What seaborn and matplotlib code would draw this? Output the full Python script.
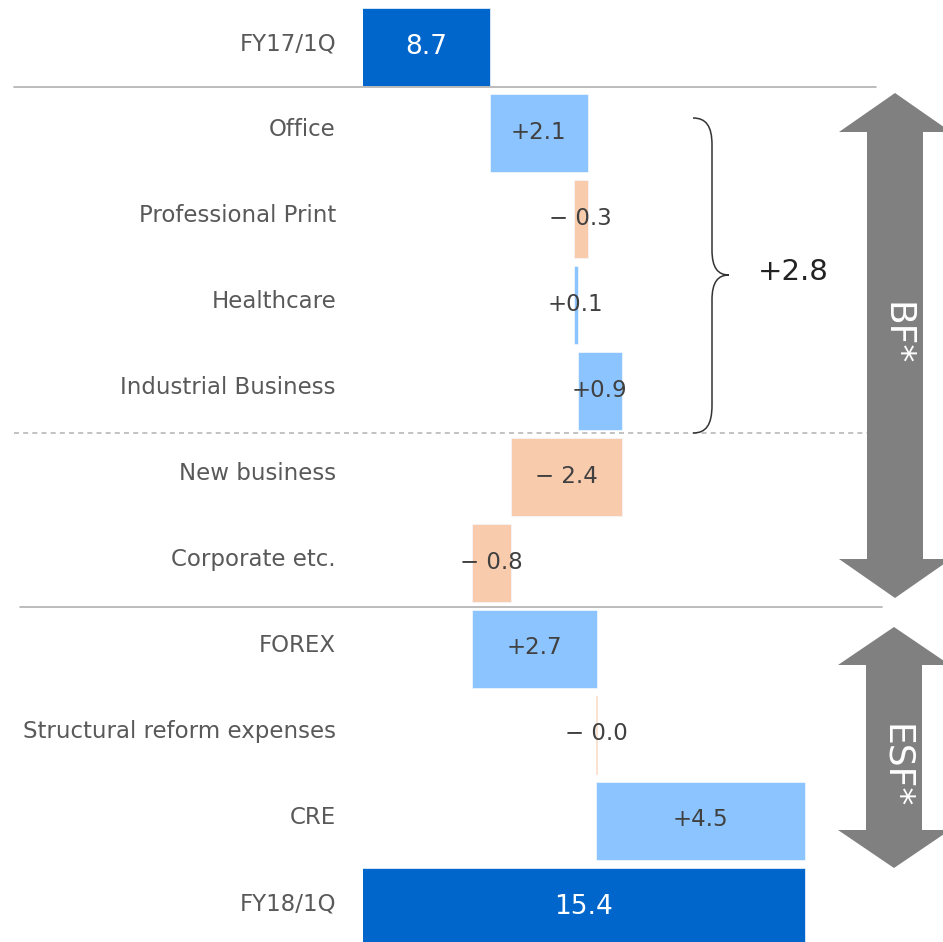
import matplotlib
matplotlib.use("Agg")
import matplotlib.pyplot as plt
import matplotlib.transforms as mtransforms
from matplotlib.patches import Polygon, PathPatch
from matplotlib.path import Path
import pandas as pd
import seaborn as sns

# ---------------- data ----------------
categories = ["FY17/1Q", "Office", "Professional Print", "Healthcare",
              "Industrial Business", "New business", "Corporate etc.",
              "FOREX", "Structural reform expenses", "CRE", "FY18/1Q"]
start_total = 8.7
end_total = 15.4
deltas = [2.08, -0.30, 0.10, 0.92, -2.36, -0.83, 2.66, -0.02, 4.45]
bf_subtotal_label = "+2.8"
group_labels = ["BF*", "ESF*"]

# ---------------- waterfall geometry from data ----------------
lefts, widths, kinds, labels = [0.0], [start_total], ["total"], [f"{start_total:.1f}"]
run = start_total
for d in deltas:
    lefts.append(min(run, run + d))
    widths.append(abs(d))
    kinds.append("pos" if d >= 0 else "neg")
    labels.append(f"+{d:.1f}" if d >= 0 else f"\u2212 {abs(d):.1f}")
    run += d
lefts.append(0.0)
widths.append(end_total)
kinds.append("total")
labels.append(f"{end_total:.1f}")

df = pd.DataFrame({"category": categories, "width": widths, "left": lefts, "kind": kinds})
palette = {"total": "#0066CC", "pos": "#8CC4FF", "neg": "#F8CBAD"}

# ---------------- figure ----------------
sns.set_theme(style="white")
plt.rcParams["font.family"] = ["DejaVu Sans"]

W, H = 943, 942
fig = plt.figure(figsize=(W / 100, H / 100), dpi=100)
ax = fig.add_axes([363 / W, 0, (W - 363) / W, 1])

sns.barplot(data=df, x="width", y="category", order=categories, orient="h",
            hue="kind", hue_order=["total", "pos", "neg"], palette=palette,
            dodge=False, legend=False, saturation=1, errorbar=None, width=0.907,
            edgecolor="#f4f8fc", linewidth=0.5, ax=ax)

# shift each bar to its waterfall start
for p in ax.patches:
    row = int(round(p.get_y() + p.get_height() / 2))
    if 0 <= row < len(lefts):
        p.set_x(lefts[row])
        if widths[row] < 0.05:
            p.set_edgecolor("#FBE3D3")
            p.set_linewidth(0.6)

XMIN, XMAX = 6.0, 18.34
ax.set_xlim(XMIN, XMAX)
ax.set_ylim(10.41, -0.547)
for s in ax.spines.values():
    s.set_visible(False)
ax.set_xticks([])
ax.set_xlabel("")
ax.set_ylabel("")
ax.tick_params(axis="y", length=0, labelleft=False)

trans = mtransforms.blended_transform_factory(fig.transFigure, ax.transData)

# category labels
for i, c in enumerate(categories):
    ax.text(336 / W, i - 0.035, c, transform=trans, ha="right", va="center",
            color="#595959", fontsize=16.5, clip_on=False)

# value labels
for i, (l, w, k, t) in enumerate(zip(lefts, widths, kinds, labels)):
    lo = max(l, XMIN)
    xc = (lo + l + w) / 2
    if k == "total":
        ax.text(xc, i, t, ha="center", va="center", color="white", fontsize=19)
    else:
        ax.text(xc, i - 0.01, t, ha="center", va="center", color="#404040", fontsize=16.5)

# separator lines (x in figure fraction, y in data rows)
ax.plot([14 / W, 876 / W], [0.465, 0.465], transform=trans, color="#b0b0b0",
        lw=1.2, clip_on=False)
ax.plot([14 / W, 870 / W], [4.49, 4.49], transform=trans, color="#b8b8b8",
        lw=1.2, ls=(0, (3, 2.5)), clip_on=False)
ax.plot([20 / W, 882 / W], [6.51, 6.51], transform=trans, color="#b0b0b0",
        lw=1.2, clip_on=False)

# ---------------- overlay annotations (pixel coordinates) ----------------
ov = fig.add_axes([0, 0, 1, 1], zorder=5)
ov.set_xlim(0, W)
ov.set_ylim(H, 0)
ov.axis("off")
ov.patch.set_alpha(0)


def double_arrow(cx, top, bot, head_len, half_shaft, half_head):
    pts = [(cx, top), (cx + half_head, top + head_len), (cx + half_shaft, top + head_len),
           (cx + half_shaft, bot - head_len), (cx + half_head, bot - head_len), (cx, bot),
           (cx - half_head, bot - head_len), (cx - half_shaft, bot - head_len),
           (cx - half_shaft, top + head_len), (cx - half_head, top + head_len)]
    ov.add_patch(Polygon(pts, closed=True, facecolor="#808080", edgecolor="none"))


double_arrow(895, 93, 598, 39, 28, 56)
double_arrow(894, 627, 868, 38, 28, 56)
ov.text(896, 334, group_labels[0], rotation=-90, ha="center", va="center",
        color="white", fontsize=26)
ov.text(896, 766, group_labels[1], rotation=-90, ha="center", va="center",
        color="white", fontsize=26)

# brace
verts = [(693, 118), (706, 118), (712, 126), (712, 145),
         (712, 250),
         (712, 268), (718, 275), (729, 275),
         (718, 275), (712, 282), (712, 300),
         (712, 405),
         (712, 425), (706, 433), (693, 433)]
codes = [Path.MOVETO, Path.CURVE4, Path.CURVE4, Path.CURVE4,
         Path.LINETO,
         Path.CURVE4, Path.CURVE4, Path.CURVE4,
         Path.CURVE4, Path.CURVE4, Path.CURVE4,
         Path.LINETO,
         Path.CURVE4, Path.CURVE4, Path.CURVE4]
ov.add_patch(PathPatch(Path(verts, codes), facecolor="none", edgecolor="#333333", lw=1.1))
ov.text(793, 272, bf_subtotal_label, ha="center", va="center", color="#222222", fontsize=21)

fig.savefig("out.png", dpi=100)
